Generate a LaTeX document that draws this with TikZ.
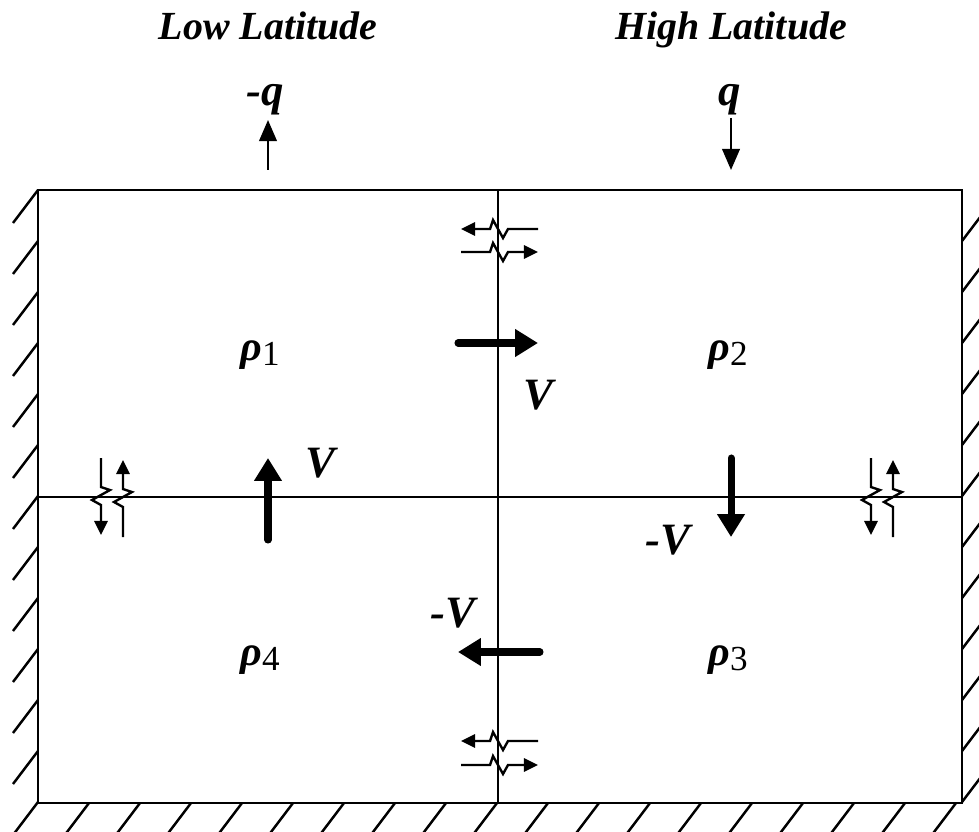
\documentclass[tikz,border=0pt]{standalone}
\usepackage{fontspec}
\setmainfont{Liberation Serif}
\usetikzlibrary{arrows.meta}
\tikzset{
  wall/.style={line width=1.6pt},
  divider/.style={line width=1.1pt},
  hatch/.style={line width=1.4pt},
  flux/.style={line width=1.3pt, -{Triangle[length=12pt,width=10pt]}},
  flow/.style={line width=4pt, line cap=round, -{Triangle[length=13pt,width=15pt]}},
  mixline/.style={line width=1.35pt, >={Triangle[length=8pt,width=7.5pt]}},
  title/.style={font=\fontsize{22.7}{26}\selectfont\bfseries\itshape, inner sep=0pt, anchor=base},
  lab/.style={font=\fontsize{25.5}{28}\selectfont\bfseries\itshape, inner sep=0pt},
  dens/.style={font=\fontsize{24}{28}\selectfont, inner sep=0pt},
  squig/.pic={\draw[mixline,#1] (0,0) -- (29,0) -- (32,-9) -- (42,9) -- (47,0) -- (77,0);}
}
\newcommand{\dens}[1]{{\bfseries\itshape ρ}\raisebox{-0.12em}{\fontsize{20}{24}\selectfont #1}}
\begin{document}
\begin{tikzpicture}[x=0.02cm, y=-0.02cm]
  \useasboundingbox (0,0) rectangle (979,831);

  % walls and hatching
  \foreach \yy in {190,241,...,805}
    \draw[hatch] (38,\yy) -- ++(-25,33);
  \foreach \yy in {241,292,...,805}
    \draw[hatch] (962,\yy) -- ++(25,-33);
  \foreach \xx in {89,140,...,960}
    \draw[hatch] (\xx,803) -- ++(-25,33);
  \draw[wall] (38,190) rectangle (962,803);
  \draw[divider] (498,190) -- (498,803);
  \draw[divider] (38,497) -- (962,497);

  % headings and surface fluxes
  \node[title] (low) at (268,40) {Low Latitude};
  \node[title] (high) at (731,40) {High Latitude};
  \node[lab, anchor=base] (qout) at (265,106) {-q};
  \node[lab, anchor=base] (qin) at (730,106) {q};
  \draw[flux] (268,170) -- (268,120);
  \draw[flux] (731,118) -- (731,170);

  % densities
  \node[dens] (rho1) at (260,355) {\dens{1}};
  \node[dens] (rho2) at (728,355) {\dens{2}};
  \node[dens] (rho3) at (728,660) {\dens{3}};
  \node[dens] (rho4) at (260,660) {\dens{4}};

  % circulation
  \draw[flow] (458,343) -- (538,343);
  \draw[flow] (268,540) -- (268,458);
  \draw[flow] (731,458) -- (731,537);
  \draw[flow] (540,652) -- (458,652);
  \node[lab] (v1) at (538,395) {V};
  \node[lab] (v2) at (320,463) {V};
  \node[lab] (v3) at (668,540) {-V};
  \node[lab] (v4) at (453,613) {-V};

  % mixing
  \pic at (461,229) {squig={<-}};
  \pic at (461,252) {squig={->}};
  \pic at (461,741) {squig={<-}};
  \pic at (461,765) {squig={->}};
  \pic[rotate=-90] at (101,458) {squig={->}};
  \pic[rotate=-90] at (123,460) {squig={<-}};
  \pic[rotate=-90] at (871,458) {squig={->}};
  \pic[rotate=-90] at (893,460) {squig={<-}};
\end{tikzpicture}
\end{document}
